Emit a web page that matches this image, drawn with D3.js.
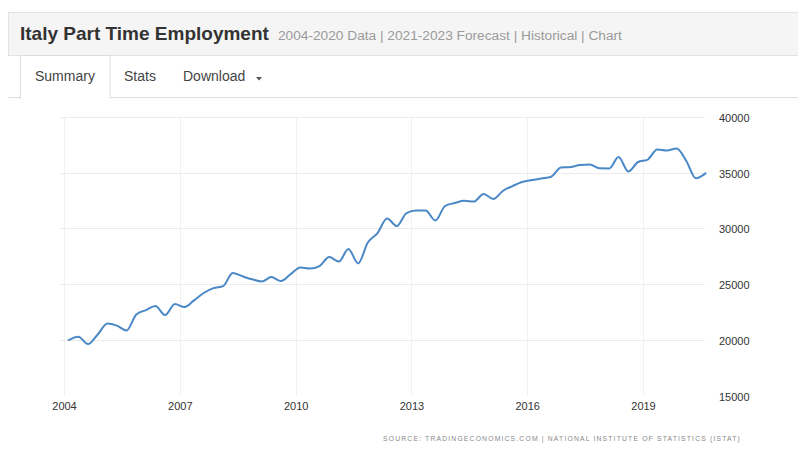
<!DOCTYPE html>
<html>
<head>
<meta charset="utf-8">
<script src="https://cdn.jsdelivr.net/npm/d3@7/dist/d3.min.js"></script>
<style>
  html, body { margin: 0; padding: 0; background: #fff; }
  svg { display: block; }
  text { font-family: "Liberation Sans", Arial, Helvetica, sans-serif; }
</style>
</head>
<body>
<svg id="chart" width="798" height="456"></svg>
<script>
// ---- Data (quarterly, thousands) ----
const years = [2004,2005,2006,2007,2008,2009,2010,2011,2012,2013,2014,2015,2016,2017,2018,2019,2020];
const quarters = [];
years.forEach(y => [1,2,3,4].forEach(q => { if (!(y === 2020 && q === 4)) quarters.push(y + "Q" + q); }));
const values = [
  19980, 20270, 19620, 20480,
  21460, 21270, 20830, 22280,
  22670, 23030, 22220, 23210,
  22940, 23540, 24200, 24640,
  24820, 25990, 25700, 25430,
  25230, 25630, 25270, 25900,
  26490, 26400, 26620, 27430,
  27020, 28150, 26860, 28730,
  29580, 30890, 30210, 31380,
  31600, 31600, 30710, 32010,
  32280, 32480, 32410, 33090,
  32640, 33360, 33800, 34160,
  34340, 34480, 34640, 35470,
  35510, 35690, 35740, 35390,
  35380, 36410, 35110, 35960,
  36180, 37080, 36990, 37170,
  36050, 34500, 34940
];
const xTickYears = [2004, 2007, 2010, 2013, 2016, 2019];
const yTicks = [15000, 20000, 25000, 30000, 35000, 40000];
const titleText = "Italy Part Time Employment";
const subtitleText = "2004-2020 Data | 2021-2023 Forecast | Historical | Chart";
const tabs = ["Summary", "Stats", "Download"];
const sourceText = "SOURCE: TRADINGECONOMICS.COM | NATIONAL INSTITUTE OF STATISTICS (ISTAT)";

// quarter -> mid-quarter date
function qDate(s) {
  const y = +s.slice(0, 4), q = +s.slice(5);
  return new Date(y, (q - 1) * 3 + 1, 15);
}
const data = quarters.map((q, i) => ({ date: qDate(q), value: values[i] }));

const svg = d3.select("#chart");

// ---- Header ----
svg.append("rect").attr("x", 8.5).attr("y", 12.5).attr("width", 800).attr("height", 43)
  .attr("fill", "#f5f5f5").attr("stroke", "#e3e3e3");
svg.append("text").attr("x", 20).attr("y", 40)
  .attr("font-size", 19).attr("font-weight", "bold").attr("fill", "#333").text(titleText);
svg.append("text").attr("x", 278).attr("y", 39.5)
  .attr("font-size", 13.7).attr("fill", "#9a9a9a").text(subtitleText);

// ---- Tabs ----
svg.append("line").attr("x1", 8).attr("x2", 798).attr("y1", 97.5).attr("y2", 97.5).attr("stroke", "#dddddd");
svg.append("rect").attr("x", 20.5).attr("y", 55.5).attr("width", 89.5).attr("height", 43)
  .attr("fill", "#fff").attr("stroke", "#dddddd");
svg.append("rect").attr("x", 21).attr("y", 96).attr("width", 88.5).attr("height", 3).attr("fill", "#fff");
const tabX = [35, 124, 183];
tabs.forEach((t, i) => {
  svg.append("text").attr("x", tabX[i]).attr("y", 81).attr("font-size", 14)
    .attr("fill", "#444").text(t);
});
svg.append("path").attr("d", "M256,77 l6,0 l-3,3.5 z").attr("fill", "#555");

// ---- Scales ----
const x = d3.scaleTime()
  .domain([new Date(2004, 0, 1), new Date(2019, 0, 1)])
  .range([64, 643]);
const y = d3.scaleLinear().domain([15000, 40000]).range([395.5, 117]);

// ---- Grid ----
const grid = svg.append("g");
grid.selectAll(".hg").data(yTicks.filter(v => v > 15000)).enter().append("line")
  .attr("x1", 60).attr("x2", 705)
  .attr("y1", d => Math.round(y(d)) + 0.5).attr("y2", d => Math.round(y(d)) + 0.5)
  .attr("stroke", "#ebebeb");
grid.selectAll(".vg").data(xTickYears).enter().append("line")
  .attr("x1", d => Math.round(x(new Date(d, 0, 1))) + 0.5)
  .attr("x2", d => Math.round(x(new Date(d, 0, 1))) + 0.5)
  .attr("y1", 117).attr("y2", 396)
  .attr("stroke", "#f0f0f0");

// ---- Axes ----
const yAxis = d3.axisRight(y).tickValues(yTicks).tickSize(0).tickPadding(0).tickFormat(d3.format("d"));
const gy = svg.append("g").attr("transform", "translate(719,1)").call(yAxis);
gy.select(".domain").remove();
gy.selectAll("text").attr("font-size", 11).attr("fill", "#333").attr("font-family", "Liberation Sans, Arial, sans-serif");

const xAxis = d3.axisBottom(x).tickValues(xTickYears.map(d => new Date(d, 0, 1)))
  .tickSize(0).tickPadding(0).tickFormat(d3.timeFormat("%Y"));
const gx = svg.append("g").attr("transform", "translate(0,402)").call(xAxis);
gx.select(".domain").remove();
gx.selectAll("text").attr("font-size", 11).attr("fill", "#333").attr("font-family", "Liberation Sans, Arial, sans-serif");

// ---- Line ----
const line = d3.line().x(d => x(d.date)).y(d => y(d.value)).curve(d3.curveMonotoneX);
svg.append("path").datum(data).attr("d", line)
  .attr("fill", "none").attr("stroke", "#4a88c6").attr("stroke-width", 2)
  .attr("stroke-linejoin", "round").attr("stroke-linecap", "round");

// ---- Source ----
svg.append("text").attr("x", 383).attr("y", 441).attr("font-size", 6.8)
  .attr("letter-spacing", 1.17).attr("fill", "#888").text(sourceText);
</script>
</body>
</html>
